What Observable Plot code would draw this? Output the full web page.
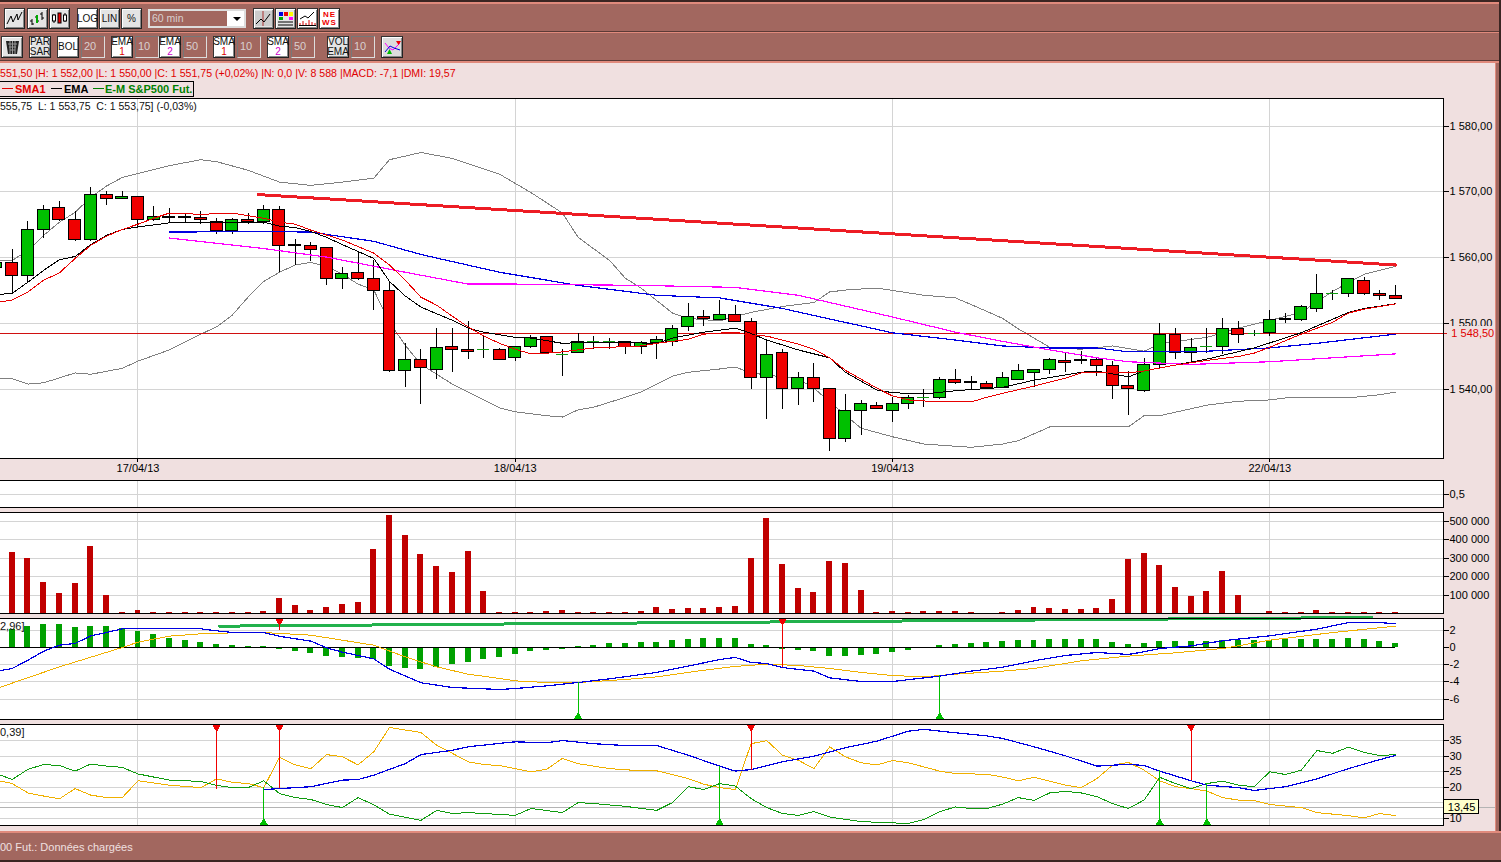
<!DOCTYPE html>
<html><head><meta charset="utf-8">
<script src="https://cdn.jsdelivr.net/npm/d3@7"></script>
<script src="https://cdn.jsdelivr.net/npm/@observablehq/plot@0.6"></script>
<style>
html,body{margin:0;padding:0;width:1501px;height:862px;overflow:hidden;background:#f0e0e0;font-family:"Liberation Sans",Arial,sans-serif;font-size:11px}
#app{position:relative;width:1501px;height:862px;overflow:hidden}
.abs{position:absolute;white-space:nowrap}
.btn{position:absolute;box-sizing:border-box;border:1px solid #222;border-top-color:#333;border-left-color:#333;box-shadow:inset 1px 1px 0 #fff,inset -1px -1px 0 #888;text-align:center;line-height:10px;font-size:10px;color:#111;display:flex;flex-direction:column;align-items:center;justify-content:center;background:#e4e4e4}
.box{position:absolute;box-sizing:border-box;border:1px solid #ddd;border-top-color:#777;border-left-color:#777;background:#a2675f;color:#d8d0d0;font-size:11px;line-height:19px;padding-left:2px}
svg.icon{display:block}
.panel{position:absolute;left:-5px}
.panel svg{shape-rendering:crispEdges}
</style></head><body><div id="app"></div>
<script>
// ---------- candles (index -9 .. 80, one per 60 min) ----------
const candleIdx = d3.range(-9, 81);
const open = [1558.5,1559.25,1557.25,1564.25,1567.5,1565.75,1562.75,1569.5,1569,1569.25,
 1565.75,1566.25,1566.25,1566,1565.5,1564,1565.75,1565.5,1567.25,1562,
 1561.75,1561.5,1556.75,1557.75,1556.75,1555,1542.75,1544.5,1543,1546.5,
 1546,1546,1546,1544.75,1546.5,1548,1545.25,1545.5,1547.25,1547.25,
 1547.25,1546.5,1547,1547.25,1549.5,1551,1550.5,1551.25,1550.25,1541.75,
 1545.5,1540,1541.75,1540,1532.5,1536.75,1537.5,1536.75,1537.75,1538.75,
 1538.75,1541.5,1541.1,1540.75,1540.25,1541.5,1542.5,1543,1544.25,1544.25,
 1544.5,1543.5,1540.5,1539.75,1543.75,1548.25,1545.5,1546.5,1546.5,1549.25,
 1548.5,1548.5,1550.5,1550.5,1552.25,1554.5,1554.5,1556.5,1554.5,1554.25];
const high = [1559.5,1561.25,1565.5,1568,1568.5,1567,1570.75,1570,1570,1569.25,
 1567.75,1567.5,1566.75,1567,1566,1566,1566.75,1568,1567.75,1562.75,
 1562.25,1561.5,1558.5,1560.75,1559.6,1556.25,1547,1546,1549.25,1549.25,
 1550.25,1548.25,1546.25,1546.5,1548.25,1548,1546,1548.5,1548,1547.75,
 1547.25,1547.25,1548,1549.75,1553,1552,1553.5,1552.75,1550.75,1547.5,
 1546,1542.5,1544,1540,1539.25,1538.25,1538,1538.75,1539,1540,
 1541.75,1543,1542,1541.25,1542.5,1543.75,1543,1544.75,1545.5,1545.75,
 1544.75,1544.25,1542.75,1544.75,1550,1549.25,1547.75,1549.25,1550.75,1550.25,
 1549,1552,1551.5,1552.75,1557.5,1555,1556.75,1557,1555,1555.75];
const low = [1558.25,1554.5,1556.25,1563,1565.5,1562.5,1562.5,1568,1569,1564.5,
 1565.5,1565.25,1565.25,1565,1563.5,1563.5,1565,1565,1557.75,1558.75,
 1559.5,1555.75,1555.25,1556.5,1552,1542.5,1540.25,1537.75,1541.5,1542.5,
 1544.5,1544.75,1544.5,1544.25,1546.25,1545.25,1542,1545.5,1546,1546,
 1545.25,1545.25,1544.5,1546.5,1548.75,1549.5,1550.5,1550.25,1540,1535.5,
 1537,1537.5,1538,1530.5,1532,1533,1537,1535,1537,1537.25,
 1538.5,1540.75,1540,1540,1540.25,1541.5,1540.25,1542.25,1542.5,1543.75,
 1542,1538.5,1536,1539.5,1543,1544.5,1544,1545.5,1545.25,1547,
 1548,1548,1550,1550.25,1551.75,1553.5,1554,1554.25,1553.5,1553.75];
const close = [1559.25,1557.25,1564.25,1567.25,1565.75,1562.75,1569.5,1569,1569.25,1565.75,
 1566.25,1566,1566,1565.75,1564,1565.75,1565.5,1567.25,1561.75,1561.75,
 1561.25,1556.75,1557.5,1556.75,1555,1542.75,1544.5,1543.25,1546.25,1546,
 1545.75,1546,1544.5,1546.5,1547.75,1545.5,1545.25,1547.25,1547.25,1547.25,
 1546.5,1547,1547.5,1549.25,1551,1550.75,1551.25,1550.25,1541.75,1545.25,
 1540,1541.75,1540,1532.5,1536.75,1537.75,1537,1537.75,1538.75,1538.75,
 1541.5,1541,1541,1540.25,1541.75,1542.75,1543,1544.5,1544,1544.5,
 1543.5,1540.5,1540,1543.75,1548.25,1545.5,1546.25,1546.5,1549.25,1548.25,
 1548.5,1550.5,1550.75,1552.5,1554.5,1554.5,1556.75,1554.5,1554.25,1553.75];

// ---------- price overlays: [bar index, price] ----------
const bollUpper = [[-9,1559.6],[-8,1559.6],[-7,1561.1],[-6,1563.4],[-5,1565.4],[-4,1566.9],[-3,1569.2],[-2,1570.9],[-1,1572.2],[0,1572.8],[2,1574],[4,1574.9],[5,1574.6],[7,1573.3],[9,1571.5],[11,1571],[13,1571.5],[15,1572.1],[16,1574.9],[18,1576],[20,1575.1],[23,1572.7],[24,1571.3],[25,1569.9],[27,1566.8],[28,1563.1],[30,1559.6],[31,1556.9],[32,1555.4],[34,1551.6],[35,1550.8],[37,1550.4],[38,1551.1],[39,1551.7],[41,1552.6],[43,1553.2],[44,1554.8],[45,1555.1],[47,1555.4],[50,1554.3],[52,1553.9],[53,1552.9],[55,1550.8],[56,1549.2],[58,1546.4],[60,1546.1],[62,1546.6],[64,1545.8],[65,1546.9],[67,1547.6],[68,1547.9],[70,1549.3],[72,1550.5],[74,1551.7],[76,1554.9],[78,1557.5],[80,1558.7]];
const bollLower = [[-9,1541.6],[-8,1541.6],[-7,1540.8],[-6,1541],[-4,1542.5],[-3,1542.3],[-1,1543.2],[0,1544.3],[2,1546],[4,1548.4],[5,1549.5],[6,1551.3],[7,1554],[8,1556.4],[9,1557.8],[10,1558.9],[11,1559.3],[12,1558.7],[13,1557.5],[14,1556],[15,1555.1],[16,1550.2],[17,1546.7],[18,1543.8],[19,1542.3],[20,1540.8],[21,1539.6],[22,1538.4],[23,1537.2],[24,1536.6],[26,1536],[27,1535.8],[28,1536.9],[29,1537.3],[31,1538.8],[32,1539.6],[34,1542],[35,1542.6],[37,1543.1],[38,1543.4],[39,1542.5],[41,1541.9],[42,1541.6],[43,1540.2],[44,1538.1],[46,1534.1],[48,1532.8],[50,1531.7],[53,1531.2],[55,1531.7],[56,1532.2],[58,1534.3],[63,1534.3],[64,1536],[65,1536],[68,1537.6],[70,1538.2],[72,1538.4],[73,1538.7],[77,1538.7],[79,1539.2],[80,1539.6]];
const sma1 = [[-9,1553.2],[-8,1553.6],[-7,1554.8],[-6,1556.6],[-5,1557.7],[-4,1559.9],[-3,1561.9],[-2,1563.3],[-1,1564.3],[0,1565.1],[1,1566],[2,1566.8],[4,1566.6],[6,1566.8],[8,1566],[9,1565.4],[10,1565.1],[11,1564.2],[13,1562.7],[15,1560.7],[16,1558.9],[17,1556.6],[18,1554],[19,1552.8],[20,1551.1],[21,1549.5],[22,1548.1],[23,1547],[24,1546.1],[25,1545.4],[26,1545.5],[27,1545.7],[29,1546.3],[32,1546.6],[33,1547],[35,1547.6],[36,1548.4],[38,1548.7],[39,1548.2],[40,1548.1],[42,1546.9],[43,1546.1],[44,1544.8],[45,1542.9],[47,1540.2],[48,1539],[49,1538.4],[51,1538.1],[53,1538.1],[54,1538.8],[55,1539.4],[57,1540.5],[59,1541.7],[60,1542.5],[61,1542.6],[63,1542.5],[64,1542.8],[66,1543.7],[68,1544.4],[70,1545],[71,1545.5],[72,1546.4],[74,1548.4],[76,1550.2],[77,1551.6],[78,1552.2],[80,1553]];
const ema1 = [[-9,1554.4],[-8,1554.6],[-7,1556.3],[-6,1558.1],[-5,1559.7],[-4,1560.2],[-3,1562],[-2,1563.4],[-1,1564.3],[0,1564.7],[2,1565.3],[4,1565.4],[8,1565.4],[9,1564.8],[10,1564.6],[11,1564],[12,1563.1],[13,1562],[15,1559.9],[16,1556.4],[17,1554.2],[18,1552.5],[20,1550.5],[21,1549.3],[22,1548.7],[23,1548.3],[24,1547.9],[25,1547.8],[27,1547],[29,1547.2],[33,1547],[34,1547.8],[36,1548.7],[38,1549.3],[39,1548.5],[40,1547.5],[42,1546],[44,1544.8],[45,1542.6],[47,1539.9],[48,1539.5],[50,1539.3],[52,1539.8],[55,1540.3],[57,1541.4],[60,1542.6],[61,1542.8],[63,1541.9],[64,1542.8],[66,1543.7],[68,1544.6],[71,1546.3],[74,1548.6],[77,1551.7],[78,1552.3],[80,1553]];
const ema50 = [[2,1563.9],[8,1564],[11,1563.9],[15,1562.5],[18,1560.5],[23,1557.8],[28,1555.8],[33,1554.3],[37,1553.9],[41,1552.3],[44,1550.7],[48,1548.6],[52,1547.5],[55,1546.6],[58,1546.3],[61,1546.3],[63,1545.7],[68,1545.8],[72,1546.3],[75,1547],[80,1548.4]];
const sma50 = [[2,1563],[8,1561.4],[12,1560.1],[17,1557.8],[21,1556],[24,1556],[32,1555.8],[38,1555.5],[42,1554.3],[48,1551],[52,1548.7],[55,1547.3],[58,1546],[61,1544.8],[63,1544.2],[67,1543.8],[72,1544.2],[76,1544.8],[80,1545.4]];
const trendLine = [[7.65,1569.6],[80,1558.9]];
const lastPrice = 1548.5;

// ---------- volume (thousands) ----------
const volume = [0,331,299,169,110,164,364,99,7,18,
 7,7,7,7,7,7,7,13,83,45,
 18,34,50,61,348,532,423,321,256,223,
 337,121,7,7,7,13,18,7,7,7,
 7,13,34,23,29,29,34,40,299,515,
 267,137,115,283,272,126,7,13,7,13,
 13,13,7,0,7,18,34,29,23,23,
 29,77,294,326,261,142,94,121,229,99,
 0,13,7,7,18,7,7,7,7,7];

// ---------- MACD ----------
const macdHist = [0,2.09,2.48,2.71,2.71,2.36,2.48,2.48,2.25,1.9,
 1.55,1.09,.85,.62,.39,.27,.15,.15,-.19,-.43,
 -.66,-1,-1.12,-1.24,-1.36,-2.17,-2.4,-2.52,-2.29,-1.94,
 -1.7,-1.36,-1.12,-.78,-.43,-.31,-.19,.15,.27,.5,
 .5,.62,.62,.85,.97,1.09,1.09,1.09,.39,.27,
 -.19,-.31,-.43,-1,-1,-.89,-.78,-.54,-.31,0,
 .27,.39,.5,.62,.74,.85,.85,.97,.97,.97,
 .97,.62,.39,.5,.74,.74,.74,.74,.85,.85,
 .85,.85,.97,.97,.97,.97,1.09,.97,.74,.5];
const macdLine = [[-9,-2.75],[-8,-2.44],[-7,-1.47],[-6,-.43],[-5,.27],[-4,.47],[-3,1.36],[-2,1.74],[-1,2.17],[0,2.17],[2,2.17],[4,2.17],[5,1.94],[6,1.74],[8,1.74],[9,1.3],[11,.74],[12,-.04],[13,-.54],[15,-1.32],[16,-2.52],[18,-4.1],[20,-4.65],[23,-4.88],[24,-4.77],[26,-4.46],[28,-4.07],[30,-3.64],[33,-2.9],[35,-2.17],[36,-1.78],[37,-1.4],[38,-1.16],[39,-1.74],[40,-1.86],[41,-2.33],[43,-2.75],[44,-3.53],[46,-3.95],[48,-3.95],[51,-3.33],[53,-2.75],[55,-2.3],[57,-1.55],[59,-.93],[61,-.58],[63,-.81],[64,-.5],[65,-.12],[67,.19],[69,.78],[72,1.36],[75,2.13],[77,2.9],[79,2.9],[80,2.75]];
const macdSignal = [[-9,-4.77],[-5,-2.25],[-1,0],[0,.62],[2,1.32],[4,1.59],[6,1.7],[8,1.74],[11,1.43],[13,.85],[15,.27],[17,-1.09],[19,-2.25],[21,-3.1],[23,-3.6],[24,-3.88],[26,-4.07],[28,-4.07],[31,-3.72],[33,-3.41],[36,-2.64],[38,-2.2],[40,-1.94],[42,-2.09],[44,-2.44],[46,-2.9],[48,-3.26],[50,-3.41],[52,-3.1],[55,-2.75],[57,-2.44],[60,-1.55],[63,-1],[66,-.62],[69,-.12],[72,.85],[76,1.74],[80,2.48]];
const macdTrend = [[5.2,2.48],[78.5,3.49]];
const macdSellIdx = [9,41], macdSellTo = [2,-2.33];
const macdBuyIdx = [28,51], macdBuyTo = [-4.07,-3.2];

// ---------- DMI ----------
const adx = [[8,19.3],[9,19.6],[11,20.2],[13,22.3],[14,22.5],[15,23.9],[17,27.6],[18,30.5],[20,31.9],[21,33],[23,34.1],[24,34.6],[26,34.3],[27,35],[29,34],[31,33.4],[33,33.4],[35,30.3],[37,26.8],[38,25.2],[39,25.7],[41,28.2],[43,30],[45,32.7],[47,34.8],[49,38],[50,38.6],[52,37.5],[54,36.5],[55,35.7],[57,33],[59,30.1],[61,26.8],[63,27.4],[64,27],[65,25.2],[67,22.1],[68,20.7],[70,19.9],[71,19],[73,20.2],[75,22.7],[77,26],[79,28.9],[80,30.2]];
const diMinus = [[-9,22.3],[-8,21.2],[-7,18.2],[-6,17.2],[-5,16.3],[-4,19.6],[-3,17.5],[-2,16.7],[-1,16.7],[0,22.1],[2,20.7],[4,19.9],[5,22.7],[6,21.6],[7,21.2],[8,19.9],[9,29.6],[10,27.2],[11,26],[12,30.5],[13,29.8],[14,27.2],[15,31.4],[16,39.2],[18,37.6],[19,33.5],[20,30.9],[21,28.2],[22,27.3],[23,27],[24,26],[25,25],[26,25.8],[27,29.3],[28,27.6],[30,26],[32,25.3],[33,25.3],[35,22.8],[36,21],[37,19.9],[38,19.3],[39,34],[40,35],[41,30.3],[42,28.7],[43,26],[44,33],[45,29.8],[46,27.9],[47,27.2],[48,28.6],[49,27.9],[51,25.2],[52,24.4],[54,24.2],[55,23.3],[56,22.1],[57,23.2],[59,20.7],[60,19.9],[61,22.8],[62,27.1],[63,28],[64,25.5],[65,22.1],[66,20.2],[67,19.6],[68,18.8],[69,16.7],[70,15.9],[71,15.8],[72,14.5],[74,13.5],[75,11.9],[77,10.9],[78,10.2],[79,11.6],[80,10.9]];
const diPlus = [[-9,24.4],[-8,22.5],[-7,25.8],[-6,27.3],[-5,27],[-4,25.2],[-3,27.5],[-2,26.8],[-1,26.4],[0,24.3],[2,22.3],[4,21.9],[5,20.6],[6,19.9],[7,19.9],[8,22.1],[9,18],[10,16.7],[11,16.1],[12,14.5],[13,13.5],[14,16.7],[15,14.4],[16,11.4],[18,9.4],[19,12.6],[20,11.6],[21,11.9],[23,11.3],[24,11],[25,13.2],[27,11.9],[28,15.1],[29,14.8],[31,13.9],[33,12.6],[34,15.1],[35,20.2],[36,19.3],[37,21.2],[38,20.4],[39,16.4],[40,13.5],[41,11.6],[42,11],[43,12.2],[44,10.5],[45,9.7],[46,9],[47,8.8],[49,8.4],[50,9.7],[51,12.2],[52,13.7],[53,13.2],[54,13.2],[55,14.6],[56,16.7],[57,15.8],[58,18.2],[59,18.7],[60,18.2],[61,17],[62,14.8],[63,13.2],[64,15.9],[65,23.2],[66,21.2],[67,19.6],[68,21.2],[69,22],[70,20.7],[71,20.2],[72,25],[73,24.1],[74,25.5],[75,31.8],[76,30.9],[77,32.9],[78,31.2],[79,30.2],[80,30.5]];
const dmiSellIdx = [5,9,39,67], dmiSellTo = [19.4,19.6,25.5,22.1];
const dmiBuyIdx = [8,37,65,68], dmiBuyTo = [19.9,26.8,25.4,21.2];
const dmiCursor = 13.45;

// ---------- axes ----------
const dayIdx = [0,24,48,72], dayLabels = ["17/04/13","18/04/13","19/04/13","22/04/13"];
const priceTicks = [1580,1570,1560,1550,1540], priceLabels = ["1 580,00","1 570,00","1 560,00","1 550,00","1 540,00"];
const volTicks = [500000,400000,300000,200000,100000], volLabels = ["500 000","400 000","300 000","200 000","100 000"];
const macdTicks = [2,0,-2,-4,-6], macdLabels = ["2","0","-2","-4","-6"];
// the 15 label sits under the cursor tag in the picture, so only its tick is drawn
const dmiTicks = [35,30,25,20,15,10], dmiLabels = ["35","30","25","20","","10"];

const C = {grid:"#d4d4d4",up:"#00c000",down:"#f00000",hist:"#00a000",vol:"#c00000",blue:"#0000e0",mag:"#ff00ff",gray:"#808080",orange:"#f0b000",dgreen:"#109c10",trend:"#ed1c24",gt:"#22b14c",pink:"#f0e0e0"};
const xDomain = [-9.065, 83.05];
const PX = d => d[0], PY = d => d[1];
const app = document.getElementById("app");
const F = {fontFamily:'"Liberation Sans",Arial,sans-serif'};

function line(a, stroke, strokeWidth=1){ return Plot.line(a,{x:PX,y:PY,stroke,strokeWidth}); }
function axis(ticks, labels, extra={}){
  const m = new Map(ticks.map((t,i)=>[t,labels[i]]));
  return Plot.axisY({anchor:"right",ticks,tickFormat:d=>m.get(d),tickSize:5,tickPadding:1,label:null,stroke:"black",fill:"black",...extra});
}
function panel(top,h,domain,marks,bottom=1){
  const svg = Plot.plot({
    width:1506,height:h+1+bottom,marginLeft:0,marginRight:58,marginTop:1,marginBottom:bottom,
    x:{domain:xDomain,axis:null},y:{domain,axis:null},
    style:{background:"transparent",maxWidth:"none",overflow:"visible",fontSize:"11px",...F},
    marks:[Plot.frame({fill:"white",stroke:"none"}),Plot.ruleX(dayIdx,{stroke:C.grid}),...marks,Plot.frame({stroke:"black"})]
  });
  const d = document.createElement("div");
  d.className="panel"; d.style.top=(top-1)+"px";
  d.appendChild(svg); app.appendChild(d);
}
function signals(idx,to,edge,color,r,dy,rotate){
  const rows = idx.map((k,i)=>({k,to:to[i],edge}));
  return [
    Plot.ruleX(rows,{x:"k",y1:"to",y2:"edge",stroke:color}),
    Plot.dot(rows,{x:"k",y:"edge",symbol:"triangle",r,fill:color,stroke:"none",dy,rotate})
  ];
}

// ---------- main price panel ----------
const candles = candleIdx.map((k,i)=>({k,o:open[i],h:high[i],l:low[i],c:close[i]}));
const bodies = candles.filter(d=>d.o!==d.c), flats = candles.filter(d=>d.o===d.c);
const dayMap = new Map(dayIdx.map((k,i)=>[k,dayLabels[i]]));
panel(98,360,[1529.5,1584.2],[
  Plot.ruleY(priceTicks,{stroke:C.grid}),
  line(bollUpper,C.gray), line(bollLower,C.gray),
  Plot.ruleY([lastPrice],{x1:xDomain[0],x2:83.3,stroke:"#d01010"}),
  Plot.ruleX(candles,{x:"k",y1:"l",y2:"h",stroke:"black"}),
  Plot.rect(bodies,{x1:d=>d.k-.38,x2:d=>d.k+.38,y1:"o",y2:"c",fill:d=>d.c>d.o?C.up:C.down,stroke:"black"}),
  Plot.ruleY(flats,{y:"c",x1:d=>d.k-.38,x2:d=>d.k+.38,stroke:C.dgreen}),
  line(ema50,C.blue,1.2), line(sma50,C.mag,1.2),
  line(ema1,"black",1), line(sma1,"#e80000",1),
  line(trendLine,C.trend,3),
  axis(priceTicks,priceLabels),
  Plot.rect([0],{x1:83.45,x2:90,y1:1547.1,y2:1549.6,fill:C.pink}),
  Plot.text([lastPrice],{x:83.55,y:d=>d,text:()=>"1 548,50",fill:"#e00000",textAnchor:"start",fontSize:11}),
  Plot.axisX({ticks:dayIdx,tickFormat:d=>dayMap.get(d),tickSize:4,tickPadding:2,label:null,anchor:"bottom"})
],22);

// ---------- small empty panel ----------
panel(480,27,[0,1],[
  Plot.ruleY([.5],{stroke:C.grid}),
  axis([.5],["0,5"])
]);

// ---------- volume ----------
const volRows = candleIdx.map((k,i)=>({k,v:volume[i]*1000})).filter(d=>d.v>0);
panel(512,101,[0,547000],[
  Plot.ruleY(volTicks,{stroke:C.grid}),
  Plot.rect(volRows,{x1:d=>d.k-.19,x2:d=>d.k+.19,y1:0,y2:"v",fill:C.vol}),
  axis(volTicks,volLabels)
]);

// ---------- MACD ----------
const mTop = 3.37, mBot = -8.37;
const histRows = candleIdx.map((k,i)=>({k,v:macdHist[i]})).filter(d=>d.v!==0);
panel(618,101,[mBot,mTop],[
  Plot.ruleY(macdTicks.filter(d=>d!==0),{stroke:C.grid}),
  Plot.rect(histRows,{x1:d=>d.k-.19,x2:d=>d.k+.19,y1:0,y2:"v",fill:C.hist}),
  Plot.ruleY([0],{x1:xDomain[0],x2:80,stroke:"black"}),
  line(macdSignal,C.orange), line(macdLine,C.blue,1.2),
  line(macdTrend,C.gt,3),
  ...signals(macdSellIdx,macdSellTo,mTop,"#f00000",3,3,180),
  ...signals(macdBuyIdx,macdBuyTo,mBot,"#00c000",3,-3,0),
  axis(macdTicks,macdLabels)
]);

// ---------- DMI ----------
const dTop = 40.16, dBot = 7.75;
panel(724,101,[dBot,dTop],[
  Plot.ruleY(dmiTicks,{stroke:C.grid}),
  Plot.ruleY([dmiCursor],{x1:xDomain[0],x2:86.7,stroke:"#b4b4b4"}),
  line(diMinus,C.orange), line(diPlus,C.dgreen), line(adx,C.blue,1.2),
  ...signals(dmiSellIdx,dmiSellTo,dTop,"#f00000",3,3,180),
  ...signals(dmiBuyIdx,dmiBuyTo,dBot,"#00c000",3,-3,0),
  axis(dmiTicks,dmiLabels),
  Plot.rect([0],{x1:83.1,x2:85.3,y1:11.4,y2:15.9,fill:"#ffffcc",stroke:"black"}),
  Plot.text([dmiCursor],{x:84.2,y:d=>d,text:()=>"13,45",fill:"black",fontSize:11})
]);

// ---------- application chrome ----------
function el(cls,css,html=""){const d=document.createElement("div");d.className=cls;d.style.cssText=css;d.innerHTML=html;app.appendChild(d);return d;}
const TB="#a2675f", HI="#e08a7c", DK="#5c3a36";
el("abs",`left:0;top:0;width:1501px;height:63px;background:${TB};border-top:2px solid #3a2522;box-sizing:border-box;box-shadow:inset 0 2px 0 ${HI}`);
el("abs",`left:0;top:31px;width:1501px;height:1px;background:${DK}`);
el("abs",`left:0;top:32px;width:1501px;height:1px;background:${HI}`);
el("abs",`left:0;top:60px;width:1501px;height:1px;background:${DK}`);
el("abs",`left:0;top:61px;width:1501px;height:2px;background:${HI}`);
el("abs",`left:1495px;top:63px;width:6px;height:770px;background:${TB};border-left:1px solid ${HI};box-sizing:border-box`);
el("abs",`left:1499px;top:0;width:2px;height:862px;background:#3a2522`);
el("abs",`left:0;top:831px;width:1501px;height:31px;background:${TB};border-top:2px solid ${HI};border-bottom:2px solid #3a2522;box-sizing:border-box`);
el("abs",`left:0;top:841px;color:#f0e0e0;font-size:11px;line-height:13px`,"00 Fut.: Données chargées");

const ic = s=>`<svg class="icon" width="17" height="15" viewBox="0 0 17 15">${s}</svg>`;
function btn(x,y,w,h,html,bg="#e4e4e4"){ el("btn",`left:${x}px;top:${y}px;width:${w}px;height:${h}px;background:${bg}`,html); }
function box(x,y,w,h,t){ el("box",`left:${x}px;top:${y}px;width:${w}px;height:${h}px`,t); }
btn(4,8,21,21,ic('<polyline points="1,13 5,5 7,11 11,3 12,9 16,1" fill="none" stroke="#000"/>'));
btn(27,8,21,21,ic('<path d="M3 8V14M1 10H3M3 13H5M8 4V12M6 6H8M8 10H10M13 1V9M11 3H13M13 7H15" stroke="#000" fill="none"/><path d="M8 4V12" stroke="#0a0" stroke-width="2"/>'));
btn(49,8,21,21,ic('<path d="M3 3V12M14 2V11" stroke="#000"/><rect x="1.5" y="4" width="3" height="6" fill="#fff" stroke="#000"/><rect x="12.5" y="4" width="3" height="6" fill="#fff" stroke="#000"/><rect x="7" y="2" width="3" height="10" fill="#e00" stroke="#000"/>'));
btn(77,8,21,21,"LOG","#fff"); btn(99,8,21,21,"LIN"); btn(121,8,21,21,"%");
el("abs",`left:148px;top:9px;width:98px;height:19px;box-sizing:border-box;border:2px solid #ddd;background:${TB};color:#d8d0d0;font-size:10.5px;line-height:15px;padding-left:2px`,"60 min");
el("abs",`left:227px;top:11px;width:17px;height:15px;background:#fff`);
el("abs",`left:233px;top:17px;width:0;height:0;border-left:4px solid transparent;border-right:4px solid transparent;border-top:4px solid #000`);
btn(253,8,21,21,ic('<rect x="0" y="0" width="17" height="15" fill="#ccc"/><path d="M8 0V15" stroke="#a33"/><polyline points="1,13 6,8 9,11 15,3" fill="none" stroke="#000"/>'));
btn(275,8,21,21,ic('<rect x="2" y="1" width="4" height="4" fill="#00d"/><rect x="7" y="1" width="4" height="4" fill="#e00"/><rect x="12" y="1" width="4" height="4" fill="#ff0"/><rect x="2" y="6" width="4" height="3" fill="#0a0"/><rect x="12" y="6" width="4" height="3" fill="#f0f"/><path d="M1 11H16M1 14H16" stroke="#000"/>'));
btn(297,8,21,21,ic('<polyline points="1,8 6,5 9,7 15,1" fill="none" stroke="#000"/><path d="M1 14V12M4 14V10M7 14V12M10 14V9M13 14V11M16 14V12" stroke="#d00"/><path d="M0 14.5H17" stroke="#000"/>'),"#fff");
btn(319,8,21,21,'<span style="color:#e00;font-weight:bold;font-size:8px;line-height:8px;letter-spacing:1px">NE<br>WS</span>',"#fff");

btn(1,36,22,22,ic('<path d="M2 1H15L13 14H4Z" fill="#222"/><path d="M4 4H13M5 7H12M6 10H11M6 1V14M8.500 1V14M11 1V14" stroke="#999"/>'));
btn(29,36,22,22,"PAR<br>SAR");
btn(57,36,22,22,"BOL","#fff"); box(81,36,24,22,"20");
const lab=(a,b,c)=>`${a}<span style="color:${c}">${b}</span>`;
btn(111,36,22,22,lab("EMA<br>","1","#d00"),"#fff"); box(135,36,24,22,"10");
btn(159,36,22,22,lab("EMA<br>","2","#c0c"),"#fff"); box(183,36,24,22,"50");
btn(213,36,22,22,lab("SMA<br>","1","#d00"),"#fff"); box(237,36,24,22,"10");
btn(267,36,22,22,lab("SMA<br>","2","#c0c"),"#fff"); box(291,36,24,22,"50");
btn(327,36,22,22,"VOL<br>EMA"); box(351,36,24,22,"10");
btn(381,36,22,22,ic('<polyline points="1,3 5,8 9,10 16,3" fill="none" stroke="#f0f"/><polyline points="1,12 6,6 10,8 16,10" fill="none" stroke="#00d"/><path d="M12 1H17L14.500 5Z" fill="#e00"/><path d="M3 14H8L5.500 9Z" fill="#0b0"/>'),"#ddd");

el("abs",`left:0;top:67px;color:#e00000;font-size:10.6px;line-height:13px`,"551,50 |H: 1 552,00 |L: 1 550,00 |C: 1 551,75 (+0,02%) |N: 0,0 |V: 8 588 |MACD: -7,1 |DMI: 19,57");
el("abs",`left:-2px;top:81px;width:196px;height:16px;box-sizing:border-box;border:1px solid #000`);
const legendBit=(x,w,t,c)=>el("abs",`left:${x}px;top:82px;color:${c};font-weight:bold;font-size:11px;line-height:14px`,t);
el("abs",`left:2px;top:88px;width:11px;height:1px;background:#e00000`);
legendBit(15,30,"SMA1","#e00000");
el("abs",`left:51px;top:88px;width:11px;height:1px;background:#000`);
legendBit(64,24,"EMA","#000");
el("abs",`left:93px;top:88px;width:11px;height:1px;background:#008000`);
legendBit(105,86,"E-M S&amp;P500 Fut.","#008000");
el("abs",`left:0;top:100px;color:#111;font-size:10.5px;line-height:13px`,"555,75&nbsp; L: 1 553,75&nbsp; C: 1 553,75] (-0,03%)");
el("abs",`left:0;top:620px;color:#111;font-size:11px;line-height:13px`,"2,96]");
el("abs",`left:0;top:726px;color:#111;font-size:11px;line-height:13px`,"0,39]");
</script></body></html>
